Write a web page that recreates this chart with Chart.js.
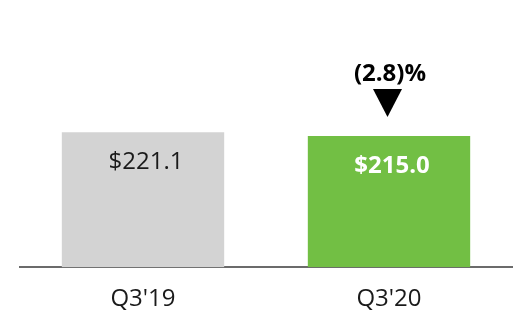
<!DOCTYPE html>
<html lang="en">
<head>
  <meta charset="UTF-8">
  <title>Q3 revenue</title>
  <style>
    body { margin: 0; background: #fff; }
    #wrap { width: 532px; height: 332px; }
  </style>
</head>
<body>
  <div id="wrap"><canvas id="revChart" width="532" height="332"></canvas></div>
  <script src="https://cdn.jsdelivr.net/npm/chart.js"></script>
  <script>
    // chart data
    const quarters = ["Q3'19", "Q3'20"]
    const revenue = [221.1, 215.0]
    const valueLabels = ['$221.1', '$215.0']
    const changeLabel = '(2.8)%'

    const barColors = ['#d3d3d3', '#72bf44']
    const labelColors = ['#1a1a1a', '#ffffff']
    const labelWeights = ['normal', 'bold']

    // draws the value inside each bar and the change marker over the last bar
    const barText = {
        id: 'barText',
        afterDatasetsDraw(chart) {
            const ctx = chart.ctx
            const bars = chart.getDatasetMeta(0).data
            ctx.save()
            ctx.textAlign = 'center'
            ctx.textBaseline = 'alphabetic'
            bars.forEach((bar, i) => {
                ctx.font = labelWeights[i] + ' 24px "Open Sans"'
                ctx.fillStyle = labelColors[i]
                ctx.fillText(valueLabels[i], bar.x + 3, bar.y + 37)
            })

            const last = bars[bars.length - 1]
            const tipY = last.y - 19
            ctx.fillStyle = '#000'
            ctx.beginPath()
            ctx.moveTo(last.x - 16, tipY - 28)
            ctx.lineTo(last.x + 13, tipY - 28)
            ctx.lineTo(last.x - 1.5, tipY)
            ctx.closePath()
            ctx.fill()

            ctx.font = 'bold 24px "Open Sans"'
            ctx.fillText(changeLabel, last.x + 1, tipY - 36)
            ctx.restore()
        }
    }

    new Chart(document.getElementById('revChart'), {
        type: 'bar',
        data: {
            labels: quarters,
            datasets: [{
                data: revenue,
                backgroundColor: barColors,
                borderWidth: 0,
                barPercentage: 0.66,
                categoryPercentage: 1
            }]
        },
        options: {
            responsive: false,
            animation: false,
            layout: { padding: { left: 20, right: 20, top: 23, bottom: 0 } },
            plugins: {
                legend: { display: false },
                tooltip: { enabled: false }
            },
            scales: {
                x: {
                    grid: { display: false, drawTicks: false },
                    border: { display: true, color: '#6b6b6b', width: 2 },
                    ticks: {
                        color: '#1a1a1a',
                        padding: 18,
                        font: { family: 'Open Sans', size: 24 }
                    }
                },
                y: {
                    display: false,
                    min: 0,
                    max: 400
                }
            }
        },
        plugins: [barText]
    })
  </script>
</body>
</html>
